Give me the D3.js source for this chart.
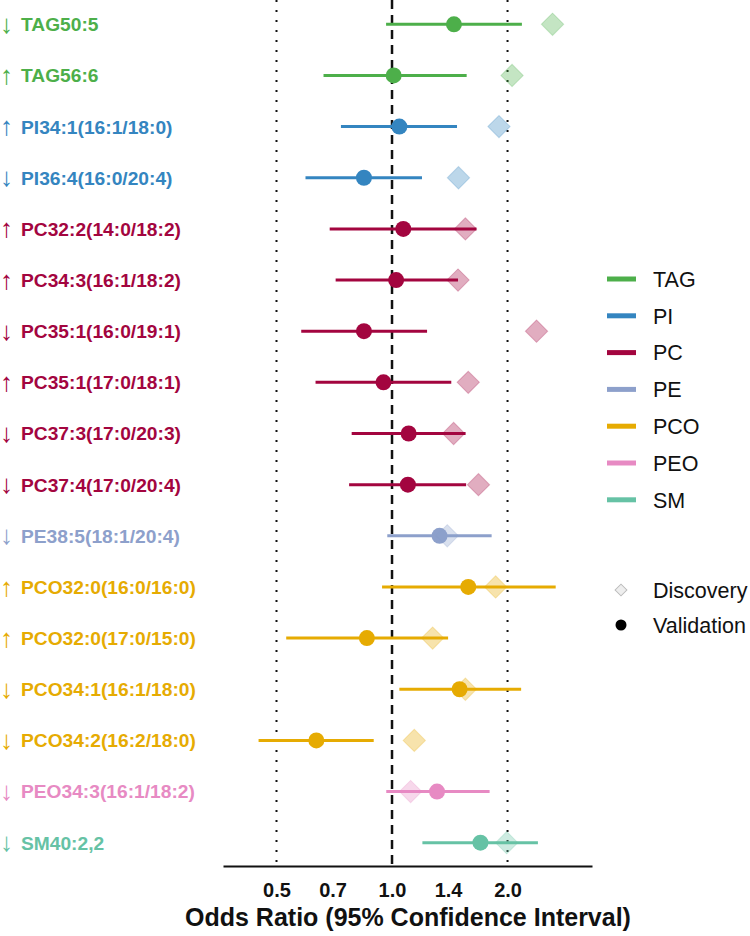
<!DOCTYPE html>
<html>
<head>
<meta charset="utf-8">
<script src="https://cdn.jsdelivr.net/npm/d3@7"></script>
<style>
  body { margin: 0; background: #fff; }
  text { font-family: "Liberation Sans", Arial, sans-serif; }
</style>
</head>
<body>
<div id="chart"></div>
<script>

// lipid rows, top to bottom
let lipids = ["TAG50:5", "TAG56:6", "PI34:1(16:1/18:0)", "PI36:4(16:0/20:4)",
	"PC32:2(14:0/18:2)", "PC34:3(16:1/18:2)", "PC35:1(16:0/19:1)", "PC35:1(17:0/18:1)",
	"PC37:3(17:0/20:3)", "PC37:4(17:0/20:4)", "PE38:5(18:1/20:4)", "PCO32:0(16:0/16:0)",
	"PCO32:0(17:0/15:0)", "PCO34:1(16:1/18:0)", "PCO34:2(16:2/18:0)", "PEO34:3(16:1/18:2)", "SM40:2,2"];
let lipidClass = ["TAG", "TAG", "PI", "PI", "PC", "PC", "PC", "PC", "PC", "PC", "PE",
	"PCO", "PCO", "PCO", "PCO", "PEO", "SM"];
let direction = ["↓", "↑", "↑", "↓", "↑", "↑", "↓", "↑", "↓", "↓", "↓", "↑", "↑", "↓", "↓", "↓", "↓"];

// validation odds ratio + 95% CI, discovery odds ratio
let validOR = [1.45, 1.01, 1.045, 0.845, 1.07, 1.025, 0.845, 0.95, 1.105, 1.10, 1.33, 1.58, 0.86, 1.50, 0.635, 1.31, 1.70];
let validLo = [0.965, 0.663, 0.736, 0.595, 0.688, 0.713, 0.58, 0.632, 0.785, 0.773, 0.972, 0.942, 0.53, 1.045, 0.449, 0.966, 1.20];
let validHi = [2.18, 1.565, 1.477, 1.197, 1.66, 1.486, 1.234, 1.427, 1.555, 1.56, 1.818, 2.67, 1.40, 2.17, 0.896, 1.796, 2.40];
let discOR = [2.62, 2.055, 1.90, 1.49, 1.553, 1.486, 2.38, 1.58, 1.447, 1.68, 1.393, 1.862, 1.276, 1.553, 1.143, 1.118, 1.99];

let classes = ["TAG", "PI", "PC", "PE", "PCO", "PEO", "SM"];
let classColors = ["#4daf4a", "#3485c0", "#a3053f", "#8da0cb", "#e6ab02", "#e78ac3", "#66c2a5"];
let tickValues = [0.5, 0.7, 1.0, 1.4, 2.0];
let refLines = [0.5, 2.0];

let width = 750, height = 936;

let svg = d3.select("#chart")
	.append("svg")
	.attr("width", width)
	.attr("height", height);

let color = d3.scaleOrdinal().domain(classes).range(classColors);

// log scale, 1.0 sits at the middle of the dashed line
let xScale = d3.scaleLog().base(2).domain([0.3627, 3.32]).range([223, 592]);
let yScale = d3.scalePoint().domain(lipids).range([24.3, 842.7]);
let axisY = 866;

let rows = lipids.map((name, i) => ({
	name: name, cls: lipidClass[i], dir: direction[i],
	or: validOR[i], lo: validLo[i], hi: validHi[i], disc: discOR[i]
}));

// reference lines
svg.selectAll(".ref")
	.data(refLines)
	.enter().append("line")
	.attr("x1", d => xScale(d)).attr("x2", d => xScale(d))
	.attr("y1", 0).attr("y2", axisY)
	.attr("stroke", "#111")
	.attr("stroke-width", 2)
	.attr("stroke-dasharray", "2,8");

svg.append("line")
	.attr("x1", xScale(1)).attr("x2", xScale(1))
	.attr("y1", 0).attr("y2", axisY)
	.attr("stroke", "#111")
	.attr("stroke-width", 2.5)
	.attr("stroke-dasharray", "9,6");

// axis
let axis = svg.append("g")
	.attr("transform", `translate(0, ${axisY})`)
	.call(d3.axisBottom(xScale)
		.tickValues(tickValues)
		.tickSize(0)
		.tickFormat(d3.format(".1f")));
axis.select(".domain").attr("stroke", "#111").attr("stroke-width", 2);
axis.selectAll("text")
	.attr("dy", 0)
	.attr("y", 31)
	.attr("fill", "#111")
	.style("font-size", "20px")
	.style("font-weight", "bold")
	.style("font-family", "'Liberation Sans', Arial, sans-serif");

svg.append("text")
	.attr("x", 408)
	.attr("y", 926)
	.attr("text-anchor", "middle")
	.style("font-size", "25px")
	.style("font-weight", "bold")
	.attr("fill", "#111")
	.text("Odds Ratio (95% Confidence Interval)");

// CI lines
svg.selectAll(".ci")
	.data(rows)
	.enter().append("line")
	.attr("x1", d => xScale(d.lo)).attr("x2", d => xScale(d.hi))
	.attr("y1", d => yScale(d.name)).attr("y2", d => yScale(d.name))
	.attr("stroke", d => color(d.cls))
	.attr("stroke-width", 3);

// validation points
svg.selectAll(".pt")
	.data(rows)
	.enter().append("circle")
	.attr("cx", d => xScale(d.or))
	.attr("cy", d => yScale(d.name))
	.attr("r", 8)
	.attr("fill", d => color(d.cls));

// discovery diamonds
let diamond = d3.symbol().type(d3.symbolSquare).size(250);
svg.selectAll(".disc")
	.data(rows)
	.enter().append("path")
	.attr("d", diamond)
	.attr("transform", d => `translate(${xScale(d.disc)}, ${yScale(d.name)}) rotate(45)`)
	.attr("fill", d => color(d.cls))
	.attr("fill-opacity", 0.33)
	.attr("stroke", d => color(d.cls))
	.attr("stroke-opacity", 0.25)
	.attr("stroke-width", 1);

// row labels
let labels = svg.selectAll(".lab")
	.data(rows)
	.enter().append("g")
	.attr("transform", d => `translate(0, ${yScale(d.name)})`);
labels.append("text")
	.attr("x", 0)
	.attr("dy", "0.33em")
	.attr("fill", d => color(d.cls))
	.style("font-size", "26px")
	.text(d => d.dir);
labels.append("text")
	.attr("x", 21)
	.attr("dy", "0.36em")
	.attr("fill", d => color(d.cls))
	.style("font-size", "19.2px")
	.style("font-weight", "bold")
	.text(d => d.name);

// legend
let legend = svg.append("g").attr("transform", "translate(607, 279)");
let keys = legend.selectAll(".key")
	.data(classes)
	.enter().append("g")
	.attr("transform", (d, i) => `translate(0, ${i * 36.8})`);
keys.append("line")
	.attr("x1", 0).attr("x2", 29)
	.attr("stroke", d => color(d))
	.attr("stroke-width", 5);
keys.append("text")
	.attr("x", 46)
	.attr("dy", "0.36em")
	.attr("fill", "#111")
	.style("font-size", "21.5px")
	.text(d => d);

let shapes = svg.append("g").attr("transform", "translate(621, 590)");
shapes.append("path")
	.attr("d", d3.symbol().type(d3.symbolSquare).size(70))
	.attr("transform", "rotate(45)")
	.attr("fill", "#eee")
	.attr("stroke", "#bbb");
shapes.append("text")
	.attr("x", 32).attr("dy", "0.36em")
	.attr("fill", "#111")
	.style("font-size", "21.5px")
	.text("Discovery");
shapes.append("circle")
	.attr("cy", 35)
	.attr("r", 5.5)
	.attr("fill", "#000");
shapes.append("text")
	.attr("x", 32).attr("y", 35).attr("dy", "0.36em")
	.attr("fill", "#111")
	.style("font-size", "21.5px")
	.text("Validation");

</script>
</body>
</html>
